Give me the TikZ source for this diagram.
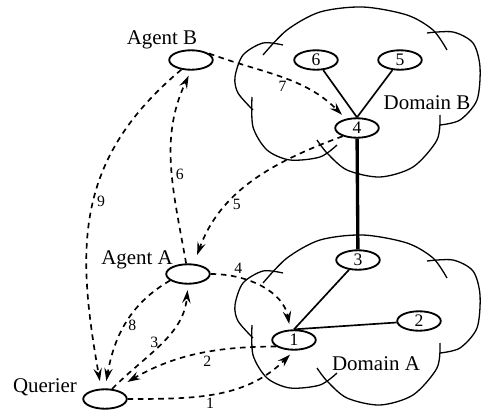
\documentclass[tikz,border=0pt]{standalone}
\usepackage{fontspec}
\setmainfont{Liberation Serif}
\usetikzlibrary{positioning,shapes.geometric,arrows.meta}

\tikzset{
	cloudline/.style={line width=0.7pt},
	domaincloud/.pic={
		\draw[cloudline] plot[smooth] coordinates {(-97,45) (-73,70) (-40,88) (3,93) (47,85) (73,70) (87,50)};
		\draw[cloudline] plot[smooth] coordinates {(67,67) (93,68) (113,57) (120,33) (117,0) (100,-20) (80,-25)};
		\draw[cloudline] plot[smooth] coordinates {(80,-15) (77,-40) (53,-67) (20,-77) (-13,-70) (-33,-53) (-43,-40)};
		\draw[cloudline] plot[smooth] coordinates {(-23,-45) (-40,-57) (-70,-60) (-93,-50) (-107,-27) (-108,3)};
		\draw[cloudline] plot[smooth] coordinates {(-107,-10) (-122,7) (-125,23) (-117,45) (-97,57) (-77,55)};
	}
}

\begin{document}
\begin{tikzpicture}[%
		x=0.54pt,
		y=0.54pt,
		>={Stealth[open,length=7pt,width=4.5pt,inset=2.5pt]},
		agent/.style={%
			ellipse,
			draw,
			line width=1pt,
			minimum width=23.5pt,
			minimum height=10.5pt,
			inner sep=0pt,
			font=\fontsize{9.5}{10}\selectfont
		},
		msg/.style={%
			dash pattern=on 3pt off 2.5pt,
			line width=0.9pt,
			->,
			shorten >=3pt
		},
		link/.style={line width=0.9pt},
		lbl/.style={font=\fontsize{11.3}{13}\selectfont},
		elbl/.style={font=\fontsize{8.5}{9}\selectfont, inner sep=1.5pt}
		]
		\useasboundingbox (0,0) rectangle (481,412);

		% domains
		\pic at (360,312) {domaincloud};
		\pic at (360,84) {domaincloud};

		\node[agent] (ab) at (191,352) {};
		\node[agent] (aa) at (188,138) {};
		\node[agent] (qr) at (105,13)  {};
		\node[agent] (n6) at (316,352) {6};
		\node[agent] (n5) at (400,352) {5};
		\node[agent] (n4) at (357,284) {4};
		\node[agent] (n3) at (358,152) {3};
		\node[agent] (n2) at (419,91)  {2};
		\node[agent] (n1) at (294,72)  {1};

		\node[lbl] (ablabel) at (162,372) {Agent B};
		\node[lbl] (aalabel) at (137,152) {Agent A};
		\node[lbl] (qrlabel) at (45,25)   {Querier};
		\node[lbl] (domb)    at (427,309) {Domain B};
		\node[lbl] (doma)    at (376,48)  {Domain A};

		% links inside the domains
		\draw[link] (n6) -- (n4.north);
		\draw[link] (n5) -- (n4.north);
		\draw[line width=1.8pt] (n4) -- (n3);
		\draw[link] (n3) -- (n1.north);
		\draw[link] (n1.north) -- (n2);

		% messages
		\draw[msg] (qr.east) to[out=0, in=225] node[elbl, below, pos=0.45] {1} (n1.south);
		\draw[msg, shorten >=8pt] (n1.200) to[out=180, in=30] node[elbl, below, pos=0.4] {2} (qr.45);
		\draw[msg] (qr.55) to[out=45, in=265] node[elbl, left, pos=0.5] {3} (aa.south);
		\draw[msg] (aa.east) to[out=0, in=100] node[elbl, above, pos=0.25] {4} (n1.110);
		\draw[msg, shorten >=5pt] (n4.210) to[out=200, in=70] node[elbl, below, pos=0.6] {5} (aa.60);
		\draw[msg] (aa.100) to[out=100, in=245] node[elbl, right, pos=0.45] {6} (ab.south);
		\draw[msg] (ab.20) to[out=-20, in=135] node[elbl, below, pos=0.5] {7} (n4.140);
		\draw[msg, shorten >=4pt] (aa.200) to[out=210, in=80] node[elbl, right, pos=0.5] {8} (qr.north);
		\draw[msg, shorten >=4pt] (ab.225) to[out=220, in=100, looseness=1.1] node[elbl, right, pos=0.47] {9} (qr.110);
		\end{tikzpicture}
\end{document}
